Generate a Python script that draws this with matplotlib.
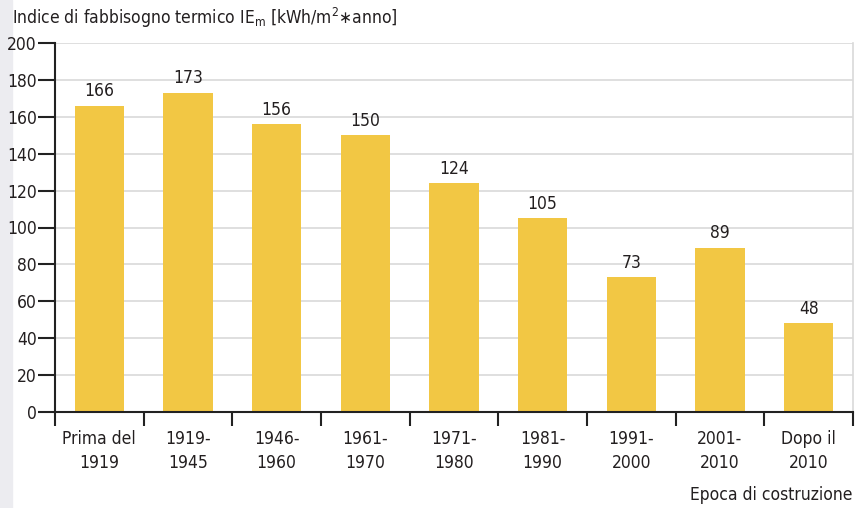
import matplotlib
matplotlib.use("Agg")
import matplotlib.pyplot as plt
from matplotlib.patches import Rectangle

plt.rcParams['font.family'] = ['DejaVu Sans']
plt.rcParams['font.stretch'] = 'condensed'
plt.rcParams['mathtext.fontset'] = 'custom'
plt.rcParams['mathtext.rm'] = 'DejaVu Sans:stretch=condensed'
plt.rcParams['mathtext.it'] = 'DejaVu Sans:stretch=condensed'

# dati
categorie = ["Prima del\n1919", "1919-\n1945", "1946-\n1960", "1961-\n1970", "1971-\n1980",
             "1981-\n1990", "1991-\n2000", "2001-\n2010", "Dopo il\n2010"]
valori = [166, 173, 156, 150, 124, 105, 73, 89, 48]
y_ticks = [0, 20, 40, 60, 80, 100, 120, 140, 160, 180, 200]

giallo = "#F2C744"
testo = "#231f20"

fig = plt.figure(figsize=(8.56, 5.08), dpi=100)
fig.patches.append(Rectangle((0, 0), 12 / 856, 1, transform=fig.transFigure,
                             color="#ececf0", zorder=-5))
ax = fig.add_axes([55 / 856, 1 - 412 / 508, (853 - 55) / 856, (412 - 43) / 508])

pos = [i + 0.5 for i in range(len(valori))]
ax.bar(pos, valori, width=0.56, color=giallo, zorder=2)
for x, v in zip(pos, valori):
    ax.text(x, v + 3, str(v), ha="center", va="bottom", fontsize=12.5, color=testo)

ax.set_xlim(0, len(valori))
ax.set_ylim(0, 200)
ax.set_yticks(y_ticks)
ax.yaxis.grid(True, color="#d9d9d9", linewidth=1.2, zorder=0)
ax.set_axisbelow(True)

ax.set_xticks(range(len(valori) + 1))
ax.set_xticklabels([])
ax.set_xticks(pos, minor=True)
ax.set_xticklabels(categorie, minor=True, fontsize=12.5, color=testo, linespacing=1.45)
ax.tick_params(axis="x", which="major", length=10, width=1.5, direction="out", color="#222")
ax.tick_params(axis="x", which="minor", length=0, pad=13)
ax.tick_params(axis="y", length=12, width=1.5, color="#222", labelsize=12.5,
               labelcolor=testo, pad=1)

ax.spines["top"].set_visible(False)
ax.spines["right"].set_color("#d9d9d9")
ax.spines["right"].set_linewidth(1.2)
ax.spines["left"].set_linewidth(1.5)
ax.spines["bottom"].set_linewidth(1.5)
ax.spines["left"].set_color("#222")
ax.spines["bottom"].set_color("#222")

fig.text(12 / 856, 1 - 18 / 508,
         r"Indice di fabbisogno termico IE$_{\mathrm{m}}$ [kWh/m$^{2}$∗anno]",
         ha="left", va="center", fontsize=12.5, color=testo)
fig.text(853 / 856, 1 - 495 / 508, "Epoca di costruzione", ha="right", va="center",
         fontsize=12.5, color=testo)

fig.savefig("out.png", dpi=100)
